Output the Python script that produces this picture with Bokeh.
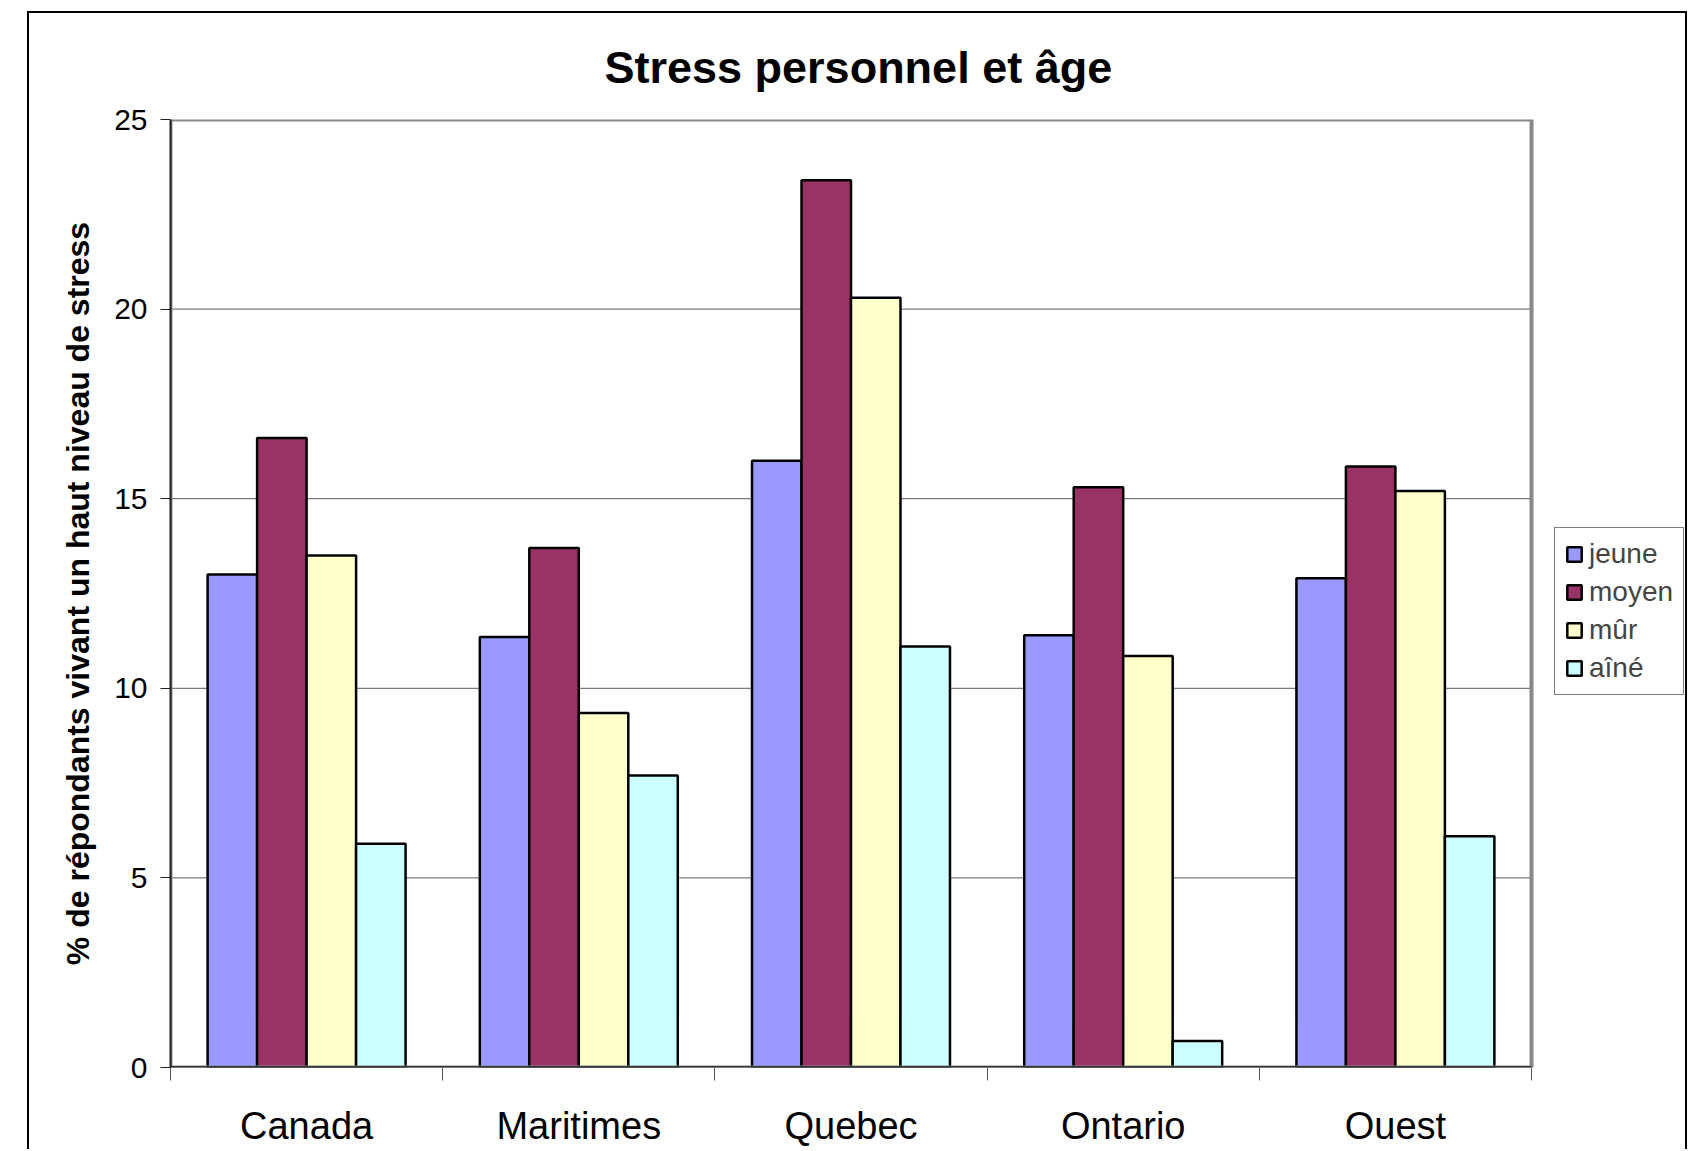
import numpy as np
from bokeh.plotting import figure
from bokeh.models import (ColumnDataSource, FixedTicker, Legend, LegendItem, Range1d)
from bokeh.embed import file_html
from bokeh.resources import INLINE

# ---- data ----
regions = ["Canada", "Maritimes", "Quebec", "Ontario", "Ouest"]
series_names = ["jeune", "moyen", "mûr", "aîné"]
jeune = [13.0, 11.35, 16.0, 11.4, 12.9]
moyen = [16.6, 13.7, 23.4, 15.3, 15.85]
mur = [13.5, 9.35, 20.3, 10.85, 15.2]
aine = [5.9, 7.7, 11.1, 0.7, 6.1]
y_ticks = [0, 5, 10, 15, 20, 25]
title_text = "Stress personnel et âge"
y_label = "% de répondants vivant un haut niveau de stress"

colors = ["#9999FF", "#993366", "#FFFFCC", "#CCFFFF"]
FONT = "Liberation Sans"

n_cat = len(regions)
n_ser = len(series_names)
y_max = y_ticks[-1]
bar_w = 1.0 / (n_ser + 1.5)  # Excel-like gap width 150%
centers = np.arange(n_cat) + 0.5

# layout (pixels)
FIG_W, FIG_H = 1660, 1138
B_LEFT, B_TOP, B_BOTTOM = 141, 106, 84
PLOT_W = 1361                    # width of the bar area
FRAME_W = FIG_W - B_LEFT         # frame extends to the right edge (room for legend)
x_end = n_cat * FRAME_W / PLOT_W

p = figure(width=FIG_W, height=FIG_H,
           x_range=Range1d(0, x_end), y_range=Range1d(0, y_max),
           output_backend="svg", toolbar_location=None,
           min_border_left=B_LEFT, min_border_right=0,
           min_border_top=B_TOP, min_border_bottom=B_BOTTOM)
p.styles = {"margin-left": "27px", "margin-top": "11px",
            "border": "2px solid #000000", "border-bottom": "none"}

# title
p.title.text = title_text
p.title.text_font = FONT
p.title.text_font_size = "45px"
p.title.text_font_style = "bold"
p.title.text_color = "#000000"
p.title.align = "left"
p.title.offset = 434
p.title.standoff = 53

# gridlines limited to the bar area
p.xgrid.grid_line_color = None
p.ygrid.grid_line_color = None
grid_src = ColumnDataSource(dict(x0=[0] * (len(y_ticks) - 2), x1=[n_cat] * (len(y_ticks) - 2),
                                 y=y_ticks[1:-1]))
p.segment(x0="x0", x1="x1", y0="y", y1="y", source=grid_src,
          line_color="#5a5a5a", line_width=1)

# bars
values = [jeune, moyen, mur, aine]
items = []
for k, (name, vals) in enumerate(zip(series_names, values)):
    src = ColumnDataSource(dict(x=centers + (k - (n_ser - 1) / 2) * bar_w,
                                top=vals, region=regions))
    r = p.vbar(x="x", top="top", width=bar_w, bottom=0, source=src,
               fill_color=colors[k], line_color="#000000", line_width=2.5)
    items.append(LegendItem(label=name, renderers=[r]))

# plot-area border (grey) and x axis line
p.quad(left=[0], right=[n_cat], bottom=[0], top=[y_max],
       fill_color=None, line_color="#888888", line_width=4)
p.segment(x0=[0], x1=[n_cat], y0=[0], y1=[0], line_color="#333333", line_width=3)

# x axis: labels at centres, ticks at boundaries
p.xaxis.ticker = FixedTicker(ticks=list(centers), minor_ticks=list(range(n_cat + 1)))
p.xaxis.major_label_overrides = {float(c): reg for c, reg in zip(centers, regions)}
p.xaxis.major_tick_out = 0
p.xaxis.major_tick_in = 0
p.xaxis.minor_tick_out = 13
p.xaxis.minor_tick_in = 0
p.xaxis.minor_tick_line_color = "#555555"
p.xaxis.minor_tick_line_width = 1
p.xaxis.axis_line_color = None
p.xaxis.major_label_text_font = FONT
p.xaxis.major_label_text_font_size = "38px"
p.xaxis.major_label_text_color = "#000000"
p.xaxis.major_label_standoff = 24

# y axis
p.yaxis.ticker = FixedTicker(ticks=y_ticks)
p.yaxis.major_tick_out = 10
p.yaxis.major_tick_in = 0
p.yaxis.minor_tick_line_color = None
p.yaxis.axis_line_color = "#222222"
p.yaxis.axis_line_width = 2
p.yaxis.major_tick_line_color = "#222222"
p.yaxis.major_label_text_font = FONT
p.yaxis.major_label_text_font_size = "30px"
p.yaxis.major_label_text_color = "#000000"
p.yaxis.major_label_standoff = 13
p.yaxis.axis_label = y_label
p.yaxis.axis_label_text_font = FONT
p.yaxis.axis_label_text_font_size = "32px"
p.yaxis.axis_label_text_font_style = "bold"
p.yaxis.axis_label_text_color = "#000000"
p.yaxis.axis_label_standoff = 15

p.outline_line_color = None
p.background_fill_color = "white"
p.border_fill_color = "white"

# legend, to the right of the bar area
legend = Legend(items=items, location=(1384, 372),
                border_line_color="#000000", border_line_width=1,
                padding=10, spacing=6, margin=0,
                glyph_height=18, glyph_width=18,
                label_text_font=FONT, label_text_font_size="28px",
                label_height=32, label_standoff=6,
                background_fill_color="white", background_fill_alpha=1)
p.add_layout(legend)

open("out.html", "w").write(file_html(p, INLINE))
